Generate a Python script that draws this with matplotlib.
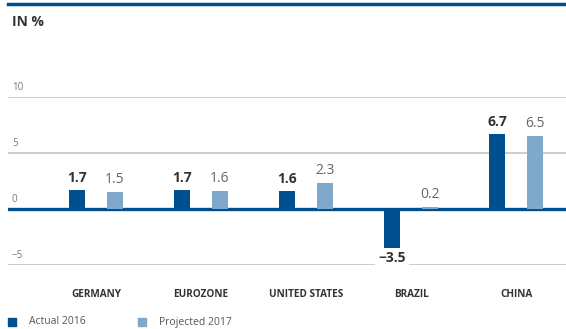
import matplotlib.pyplot as plt
import numpy as np

plt.rcParams['font.family'] = ['Open Sans', 'DejaVu Sans']

regions = ['GERMANY', 'EUROZONE', 'UNITED STATES', 'BRAZIL', 'CHINA']
actual_2016 = [1.7, 1.7, 1.6, -3.5, 6.7]
projected_2017 = [1.5, 1.6, 2.3, 0.2, 6.5]
y_ticks = [-5, 0, 5, 10]

dark_blue = '#00508f'
light_blue = '#7fa8ca'
grid_grey = '#c5c9c9'

W, H = 566, 329
fig = plt.figure(figsize=(W / 100, H / 100), dpi=100)

# axes spans from the -5 gridline (y=265px) up to the 10 gridline (y=97px)
ax = fig.add_axes([8 / W, (H - 265) / H, 558 / W, 168 / H])
ax.set_xlim(-0.838, 4.476)
ax.set_ylim(-5, 10)
ax.axis('off')

x = np.arange(len(regions))
w = 0.152
off = 0.181

for t in y_ticks:
    if t == 0:
        ax.axhline(0, color=dark_blue, lw=2.4, zorder=3)
    else:
        ax.axhline(t, color=grid_grey, lw=1.3, zorder=1)
    ax.text(-0.80, t + 0.35, '\u2212' + str(abs(t)) if t < 0 else str(t),
            fontsize=7, color='#777777', ha='left', va='bottom')

ax.bar(x - off, actual_2016, w, color=dark_blue, zorder=4)
ax.bar(x + off, projected_2017, w, color=light_blue, zorder=4)

for xi, a, p in zip(x, actual_2016, projected_2017):
    if a >= 0:
        ax.text(xi - off, a + 0.45, f'{a:.1f}', ha='center', va='bottom',
                fontsize=10, fontweight='bold', color='#333333')
    else:
        ax.text(xi - off, -5.0, '\u2212' + f'{abs(a):.1f}', ha='center', va='bottom',
                fontsize=10, fontweight='bold', color='#333333', zorder=5,
                bbox=dict(facecolor='white', edgecolor='none', pad=2.5))
    ax.text(xi + off, max(p, 0) + 0.45, f'{p:.1f}', ha='center', va='bottom',
            fontsize=10, color='#666666')

for xi, name in zip(x, regions):
    ax.text(xi, -7.6, name, ha='center', va='center', fontsize=7.2,
            fontweight='bold', color='#333333', clip_on=False)

# header rule and unit label
fig.add_artist(plt.Line2D([8 / W, 1], [1 - 4 / H, 1 - 4 / H], color=dark_blue, lw=2.5))
fig.text(12 / W, 1 - 22 / H, 'IN %', fontsize=10, fontweight='bold', color='#333333',
         va='center', ha='left')

# legend
for lx, col, lab in [(8, dark_blue, 'Actual 2016'), (138, light_blue, 'Projected 2017')]:
    fig.patches.append(plt.Rectangle((lx / W, (H - 326) / H), 8 / W, 8 / H,
                                     color=col, transform=fig.transFigure, figure=fig))
    fig.text((lx + 21) / W, (H - 322) / H, lab, fontsize=7.5, color='#555555',
             va='center', ha='left')

fig.savefig('out.png', dpi=100)
